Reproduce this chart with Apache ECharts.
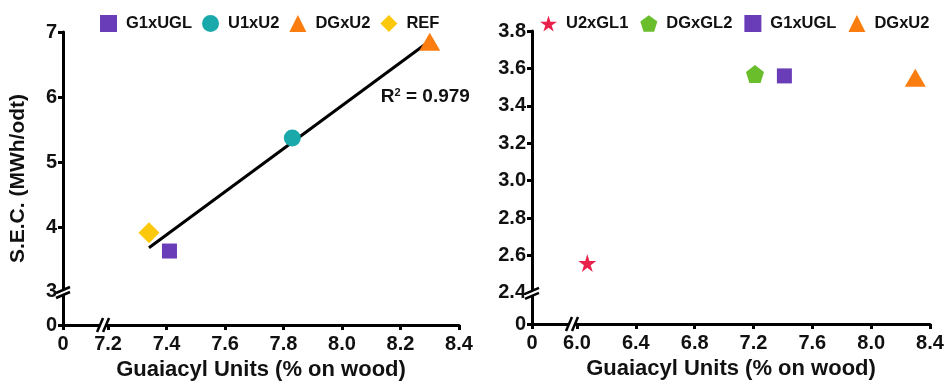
<!DOCTYPE html>
<html>
<head>
<meta charset="utf-8">
<script src="https://cdn.jsdelivr.net/npm/echarts@6/dist/echarts.min.js"></script>
<style>
  html, body { margin: 0; background: #fff; }
  #chart { width: 947px; height: 383px; }
</style>
</head>
<body>
<div id="chart"></div>
<script>
// left panel
const leftNames = ['G1xUGL', 'U1xU2', 'DGxU2', 'REF']
const leftX = [7.41, 7.83, 8.30, 7.34]
const leftY = [3.63, 5.37, 6.85, 3.91]
const leftXTicks = [7.2, 7.4, 7.6, 7.8, 8.0, 8.2, 8.4]
const leftYTicks = [3, 4, 5, 6, 7]

// right panel
const rightNames = ['U2xGL1', 'DGxGL2', 'G1xUGL', 'DGxU2']
const rightX = [6.07, 7.21, 7.41, 8.30]
const rightY = [2.56, 3.57, 3.56, 3.55]
const rightXTicks = [6.0, 6.4, 6.8, 7.2, 7.6, 8.0, 8.4]
const rightYTicks = [2.4, 2.6, 2.8, 3.0, 3.2, 3.4, 3.6, 3.8]

// where the "0" sits before each axis break
const leftXZero = 7.046
const leftYZero = 2.492
const rightXZero = 5.694
const rightYZero = 2.234

const FONT = 'Arial, "Liberation Sans", sans-serif'

const markers = {
  G1xUGL: { symbol: 'rect', size: 15, color: '#6a3db8' },
  U1xU2: { symbol: 'circle', size: 17, color: '#19a9aa' },
  DGxU2: { symbol: 'triangle', size: [21, 18], color: '#fb7d0f' },
  REF: { symbol: 'diamond', size: 21, color: '#fcc80c' },
  U2xGL1: { symbol: 'path://M50,0 L61,35 L98,35 L68,57 L79,91 L50,70 L21,91 L32,57 L2,35 L39,35 Z', size: 18, color: '#e8224a' },
  DGxGL2: { symbol: 'path://M50,0 L98,36 L80,94 L20,94 L2,36 Z', size: 18, color: '#6abd2b' },
}

// least squares fit for left panel
const n = leftX.length
const mx = leftX.reduce((a, b) => a + b, 0) / n
const my = leftY.reduce((a, b) => a + b, 0) / n
let sxy = 0, sxx = 0
leftX.forEach((x, i) => { sxy += (x - mx) * (leftY[i] - my); sxx += (x - mx) ** 2 })
const slope = sxy / sxx
const fitX = [Math.min(...leftX), Math.max(...leftX)]
const fitLine = fitX.map((x) => [x, my + slope * (x - mx)])

const axisLine = { show: true, onZero: false, lineStyle: { color: '#000', width: 3 } }
const axisTick = (vals) => ({ show: true, length: 5, lineStyle: { color: '#000', width: 3 }, customValues: vals })
const tickLabel = { color: '#111', fontSize: 20, fontWeight: 'bold', fontFamily: FONT }
const nameStyle = { color: '#111', fontSize: 22, fontWeight: 'bold', fontFamily: FONT }

function xAxisFor(gridIndex, zero, ticks) {
  const vals = [zero, ...ticks]
  return {
    type: 'value', gridIndex, min: zero, max: ticks[ticks.length - 1],
    name: 'Guaiacyl Units (% on wood)', nameLocation: 'middle', nameGap: 33, nameTextStyle: nameStyle,
    axisLine, axisTick: axisTick(vals), splitLine: { show: false },
    axisLabel: { ...tickLabel, margin: 9, customValues: vals,
      formatter: (v) => (Math.abs(v - zero) < 1e-6 ? '0' : v.toFixed(1)) },
  }
}

function yAxisFor(gridIndex, zero, ticks, digits, name) {
  const vals = [zero, ...ticks]
  return {
    type: 'value', gridIndex, min: zero, max: ticks[ticks.length - 1],
    name, nameLocation: 'middle', nameGap: 34, nameTextStyle: { ...nameStyle, fontSize: 21 },
    axisLine, axisTick: axisTick(vals), splitLine: { show: false },
    axisLabel: { ...tickLabel, margin: 6, customValues: vals,
      formatter: (v) => (Math.abs(v - zero) < 1e-6 ? '0' : v.toFixed(digits)) },
  }
}

function scatterSeries(names, xs, ys, idx) {
  return names.map((name, i) => ({
    type: 'scatter', name, xAxisIndex: idx, yAxisIndex: idx,
    symbol: markers[name].symbol, symbolSize: markers[name].size,
    itemStyle: { color: markers[name].color, opacity: 1 },
    data: [[xs[i], ys[i]]], z: 3,
  }))
}

const legendText = { color: '#111', fontSize: 16.5, fontWeight: 'bold', fontFamily: FONT, padding: [0, 0, 0, 4] }

const chart = echarts.init(document.getElementById('chart'))
chart.setOption({
  animation: false,
  backgroundColor: '#fff',
  grid: [
    { left: 63, right: 488, top: 32, bottom: 58, outerBoundsMode: 'none' },
    { left: 532, right: 17, top: 31, bottom: 59, outerBoundsMode: 'none' },
  ],
  legend: [
    { data: leftNames, left: 95, top: 10, itemWidth: 17, itemHeight: 17, itemGap: 10, textStyle: legendText },
    { data: rightNames, left: 535, top: 10, itemWidth: 17, itemHeight: 17, itemGap: 12, textStyle: legendText },
  ],
  xAxis: [xAxisFor(0, leftXZero, leftXTicks), xAxisFor(1, rightXZero, rightXTicks)],
  yAxis: [
    yAxisFor(0, leftYZero, leftYTicks, 0, 'S.E.C. (MWh/odt)'),
    yAxisFor(1, rightYZero, rightYTicks, 1, ''),
  ],
  series: [
    {
      type: 'line', name: 'fit', xAxisIndex: 0, yAxisIndex: 0, data: fitLine,
      symbol: 'none', lineStyle: { color: '#000', width: 3 }, z: 2, silent: true,
    },
    ...scatterSeries(leftNames, leftX, leftY, 0),
    ...scatterSeries(rightNames, rightX, rightY, 1),
  ],
})

// axis-break marks and the R² note, placed from the axes
function breakMarks(idx, xZero, xFirst, yZero, yFirst) {
  const origin = chart.convertToPixel({ gridIndex: idx }, [xZero, yZero])
  const xb = chart.convertToPixel({ gridIndex: idx }, [xFirst, yZero])[0] - 4
  const yb = chart.convertToPixel({ gridIndex: idx }, [xZero, yFirst])[1]
  const ox = origin[0], oy = origin[1]
  const line = (pts) => ({ type: 'polyline', shape: { points: pts }, style: { stroke: '#000', lineWidth: 2.5, fill: null }, z: 10 })
  return [
    // x axis //
    { type: 'polygon', shape: { points: [[xb - 6, oy + 6], [xb - 1, oy - 6], [xb + 4, oy - 6], [xb - 1, oy + 6]] }, style: { fill: '#fff' }, z: 9 },
    line([[xb - 7, oy + 7], [xb - 1, oy - 7]]),
    line([[xb - 1, oy + 7], [xb + 5, oy - 7]]),
    // y axis =
    { type: 'polygon', shape: { points: [[ox - 6, yb + 1], [ox + 6, yb - 4], [ox + 6, yb + 1], [ox - 6, yb + 6]] }, style: { fill: '#fff' }, z: 9 },
    line([[ox - 7, yb + 1], [ox + 7, yb - 5]]),
    line([[ox - 7, yb + 6], [ox + 7, yb]]),
  ]
}

const r2Pos = chart.convertToPixel({ gridIndex: 0 }, [8.285, 6.0])
chart.setOption({
  graphic: [
    ...breakMarks(0, leftXZero, leftXTicks[0], leftYZero, leftYTicks[0]),
    ...breakMarks(1, rightXZero, rightXTicks[0], rightYZero, rightYTicks[0]),
    {
      type: 'text', x: r2Pos[0], y: r2Pos[1], z: 10,
      style: { text: 'R{s|2} = 0.979', fill: '#111', font: 'bold 19px ' + FONT, align: 'center', verticalAlign: 'middle',
        rich: { s: { fontSize: 11, fontWeight: 'bold', fontFamily: FONT, verticalAlign: 'top', padding: [0, 0, 9, 0] } } },
    },
  ],
})
</script>
</body>
</html>
